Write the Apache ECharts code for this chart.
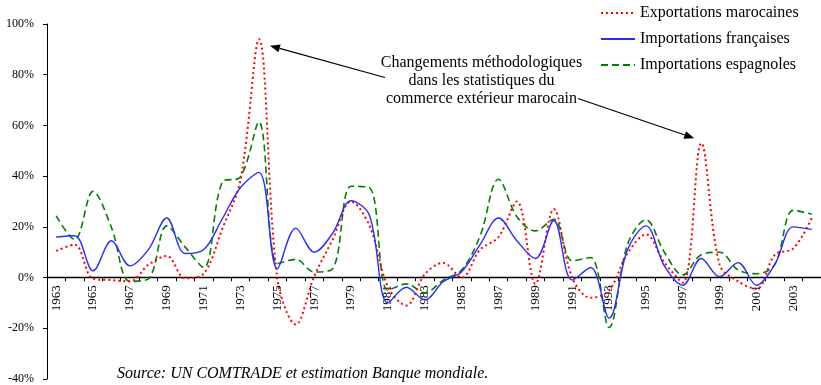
<!DOCTYPE html>
<html>
<head>
<meta charset="utf-8">
<script src="https://cdn.jsdelivr.net/npm/echarts@6/dist/echarts.min.js"></script>
<style>
  html, body { margin: 0; padding: 0; background: #ffffff; }
  #chart { width: 821px; height: 385px; }
</style>
</head>
<body>
<div id="chart"></div>
<script>
// Annual growth rates (%), 1963-2004
const years = [
  '1963','1964','1965','1966','1967','1968','1969','1970','1971','1972',
  '1973','1974','1975','1976','1977','1978','1979','1980','1981','1982',
  '1983','1984','1985','1986','1987','1988','1989','1990','1991','1992',
  '1993','1994','1995','1996','1997','1998','1999','2000','2001','2002',
  '2003','2004'
];

const exportationsMarocaines = [
  10.5, 13, -0.5, -1, -1.5, 5, 8.5, -0.3, 1.5, 19,
  38.5, 94, -0.5, -18.5, 0.5, 15, 30, 20.5, -3.6, -11,
  1.3, 5.8, 0, 11, 16, 30, -2.5, 27, 0, -8,
  -5, 9.5, 17, 6, -2, 53, 5, -1.5, -4.5, 9,
  11.5, 23.5
];

const importationsFrancaises = [
  16, 16.5, 2.7, 14.5, 4.6, 11, 23.5, 9.5, 11, 23,
  35.5, 41.5, 3.5, 19.5, 10, 17.5, 30.3, 24.5, -10, -3.8,
  -8.8, -1.6, 2.3, 13, 23.5, 14.5, 7.5, 22.5, -1, 4,
  -16, 11, 20.4, 4.6, -3, 7.5, 0.3, 5.9, -3, 5.3,
  20, 19
];

const importationsEspagnoles = [
  24.3, 15, 34, 19.7, -1.5, -0.5, 20.4, 12, 4, 37.5,
  39.7, 61.4, 5.5, 7.2, 2.2, 3.5, 36, 35.5, -5, -2.5,
  -6, -1, 3, 16.4, 38.8, 24, 18.4, 23, 6.6, 7.9,
  -19.7, 13, 22.8, 10, 1, 9, 10, 3, 1.5, 5.3,
  26.5, 25
];

const seriesNames = [
  'Exportations marocaines',
  'Importations françaises',
  'Importations espagnoles'
];

const noteLines = [
  'Changements méthodologiques',
  'dans les statistiques du',
  'commerce extérieur marocain'
];
const sourceText = 'Source: UN COMTRADE et estimation Banque mondiale.';

const SERIF = '"Liberation Serif", "Times New Roman", Times, serif';

const Y_MIN = -40, Y_MAX = 100, Y_STEP = 20;
const GRID_TOP = 24, GRID_H = 356;
// place the category axis (line, ticks, labels) on the 0% level
const zeroOffset = -GRID_H * (0 - Y_MIN) / (Y_MAX - Y_MIN);

const chart = echarts.init(document.getElementById('chart'), null, { renderer: 'canvas' });

const option = {
  animation: false,
  backgroundColor: '#ffffff',
  textStyle: { fontFamily: SERIF, color: '#000' },
  grid: { left: 47, top: GRID_TOP, width: 781, height: GRID_H, containLabel: false },
  legend: {
    orient: 'vertical',
    left: 600,
    top: 5,
    padding: 0,
    itemWidth: 34,
    itemHeight: 14,
    itemGap: 10,
    itemStyle: { opacity: 0 },
    textStyle: { fontFamily: SERIF, fontSize: 16, color: '#000', lineHeight: 14 },
    data: seriesNames
  },
  xAxis: {
    type: 'category',
    data: years,
    boundaryGap: true,
    position: 'bottom',
    offset: zeroOffset,
    axisLine: { onZero: false, lineStyle: { color: '#000', width: 1.3 } },
    axisTick: { show: true, interval: 0, inside: false, length: 4, lineStyle: { color: '#000' } },
    axisLabel: {
      interval: 1,
      rotate: 90,
      margin: 8,
      fontFamily: SERIF,
      fontSize: 13,
      color: '#000'
    },
    splitLine: { show: false }
  },
  yAxis: {
    type: 'value',
    min: Y_MIN,
    max: Y_MAX,
    interval: Y_STEP,
    axisLine: { show: true, lineStyle: { color: '#000', width: 1 } },
    axisTick: { show: true, inside: false, length: 4, lineStyle: { color: '#000' } },
    axisLabel: {
      formatter: function (v) { return v + '%'; },
      margin: 13,
      fontFamily: SERIF,
      fontSize: 12,
      color: '#000'
    },
    splitLine: { show: false }
  },
  series: [
    {
      name: seriesNames[0],
      type: 'line',
      data: exportationsMarocaines,
      smooth: 0.35,
      symbol: 'none',
      z: 3,
      lineStyle: { color: '#ff0000', width: 2, type: [2, 3] },
      itemStyle: { color: '#ff0000' }
    },
    {
      name: seriesNames[1],
      type: 'line',
      data: importationsFrancaises,
      smooth: 0.35,
      symbol: 'none',
      z: 4,
      lineStyle: { color: '#2a2aff', width: 1.4, type: 'solid' },
      itemStyle: { color: '#2a2aff' }
    },
    {
      name: seriesNames[2],
      type: 'line',
      data: importationsEspagnoles,
      smooth: 0.35,
      symbol: 'none',
      z: 2,
      lineStyle: { color: '#008000', width: 1.6, type: [7, 4] },
      itemStyle: { color: '#008000' }
    }
  ]
};

chart.setOption(option);

// Arrow from a tail point to a tip point, with a filled head
function arrow(x1, y1, x2, y2) {
  const a = Math.atan2(y2 - y1, x2 - x1);
  const L = 10, W = 4;
  const bx = x2 - L * Math.cos(a), by = y2 - L * Math.sin(a);
  const px = -Math.sin(a) * W, py = Math.cos(a) * W;
  return [
    {
      type: 'line',
      shape: { x1: x1, y1: y1, x2: bx, y2: by },
      style: { stroke: '#000', lineWidth: 1.2 },
      silent: true
    },
    {
      type: 'polygon',
      shape: { points: [[x2, y2], [bx + px, by + py], [bx - px, by - py]] },
      style: { fill: '#000' },
      silent: true
    }
  ];
}

// Annotation arrows point at the two export peaks (1974 and 1998)
const i1974 = years.indexOf('1974');
const i1998 = years.indexOf('1998');
const p1 = chart.convertToPixel({ gridIndex: 0 }, [i1974, exportationsMarocaines[i1974]]);
const p2 = chart.convertToPixel({ gridIndex: 0 }, [i1998, exportationsMarocaines[i1998]]);

const graphics = [];
graphics.push.apply(graphics, arrow(385, 77.5, p1[0] + 11, p1[1] + 6.5));
graphics.push.apply(graphics, arrow(578, 98.5, p2[0] - 7, p2[1] - 5));

noteLines.forEach(function (t, i) {
  graphics.push({
    type: 'text',
    x: 481.5,
    y: 62.3 + i * 18.3,
    silent: true,
    style: {
      text: t,
      fill: '#000',
      font: '16px ' + SERIF,
      textAlign: 'center',
      textVerticalAlign: 'middle'
    }
  });
});

graphics.push({
  type: 'text',
  x: 117,
  y: 373.5,
  silent: true,
  style: {
    text: sourceText,
    fill: '#000',
    font: 'italic 16px ' + SERIF,
    textAlign: 'left',
    textVerticalAlign: 'middle'
  }
});

chart.setOption({ graphic: graphics });
</script>
</body>
</html>
